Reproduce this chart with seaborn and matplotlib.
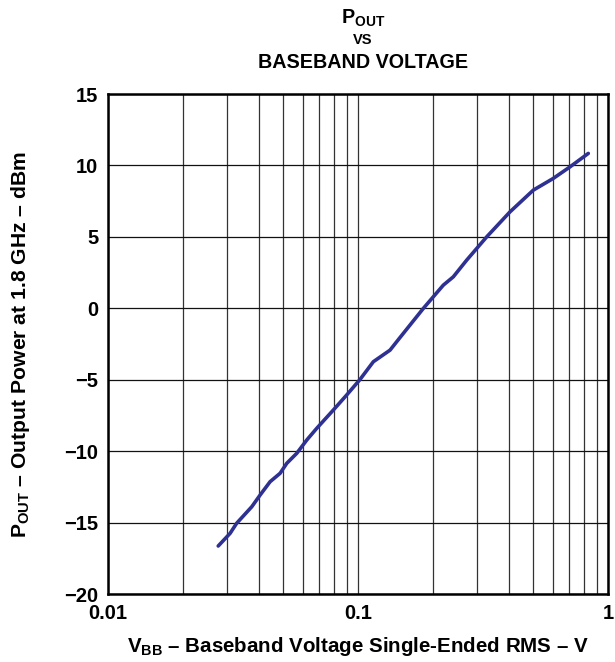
import numpy as np
import pandas as pd
import matplotlib
matplotlib.use("Agg")
import matplotlib.pyplot as plt
from matplotlib.ticker import FixedLocator, LogLocator, NullFormatter
import seaborn as sns

# data
vbb_rms = [0.0276, 0.0308, 0.0327, 0.0376, 0.0406, 0.0445, 0.0488, 0.0519,
           0.0569, 0.0624, 0.0684, 0.0797, 0.0901, 0.1019, 0.1152, 0.1343,
           0.1472, 0.1825, 0.2194, 0.2405, 0.2721, 0.3272, 0.4055, 0.5026,
           0.6040, 0.7047, 0.8340]
pout_dbm = [-16.64, -15.75, -15.05, -13.89, -13.07, -12.14, -11.55, -10.85,
            -10.15, -9.22, -8.40, -7.12, -6.07, -4.98, -3.74, -2.93,
            -2.05, -0.01, 1.62, 2.20, 3.37, 5.00, 6.75, 8.27,
            9.09, 9.90, 10.84]

y_ticks = [-20, -15, -10, -5, 0, 5, 10, 15]
x_ticks = [0.01, 0.1, 1]
x_tick_labels = ["0.01", "0.1", "1"]

df = pd.DataFrame({"vbb": vbb_rms, "pout": pout_dbm})

sns.set_style("white")
plt.rcParams["font.family"] = ["Liberation Sans", "DejaVu Sans"]
plt.rcParams["font.weight"] = "bold"
plt.rcParams["text.color"] = "black"
plt.rcParams["axes.labelcolor"] = "black"
plt.rcParams["xtick.color"] = "black"
plt.rcParams["ytick.color"] = "black"
plt.rcParams["mathtext.fontset"] = "custom"
plt.rcParams["mathtext.rm"] = "Liberation Sans:bold"
plt.rcParams["mathtext.it"] = "Liberation Sans:bold"
plt.rcParams["mathtext.bf"] = "Liberation Sans:bold"

fig = plt.figure(figsize=(6.15, 6.62), dpi=100)
ax = fig.add_axes([108 / 615, 68 / 662, 500 / 615, 500 / 662])

sns.lineplot(data=df, x="vbb", y="pout", ax=ax, color="#2e3192",
             linewidth=2.6, solid_capstyle="round")

ax.set_xscale("log")
ax.set_xlim(0.01, 1)
ax.set_ylim(-20, 15)
ax.xaxis.set_major_locator(FixedLocator(x_ticks))
ax.set_xticklabels(x_tick_labels)
ax.xaxis.set_minor_locator(LogLocator(base=10, subs=np.arange(2, 10)))
ax.xaxis.set_minor_formatter(NullFormatter())
ax.set_yticks(y_ticks)

ax.grid(True, which="both", axis="x", color="#333333", linewidth=0.9)
ax.grid(True, which="major", axis="y", color="#111111", linewidth=0.9)
ax.tick_params(which="both", length=0, labelsize=14.5)
ax.tick_params(axis="x", pad=7)
ax.tick_params(axis="y", pad=7)
for lbl in ax.get_xticklabels() + ax.get_yticklabels():
    lbl.set_fontweight("bold")

for sp in ax.spines.values():
    sp.set_color("black")
    sp.set_linewidth(1.8)

ax.set_xlabel(r"V$_{\mathrm{BB}}$ – Baseband Voltage Single-Ended RMS – V",
              fontsize=14.8, fontweight="bold", labelpad=9)
ax.set_ylabel(r"P$_{\mathrm{OUT}}$ – Output Power at 1.8 GHz – dBm",
              fontsize=15.2, fontweight="bold", labelpad=23)

fig.text(0.59, 1 - 18 / 662, r"P$_{\mathrm{OUT}}$", ha="center", va="center",
         fontsize=14.2, fontweight="bold")
fig.text(0.59, 1 - 40 / 662, "VS", ha="center", va="center",
         fontsize=10.5, fontweight="bold")
fig.text(0.59, 1 - 62 / 662, "BASEBAND VOLTAGE", ha="center", va="center",
         fontsize=14.2, fontweight="bold")

fig.savefig("out.png", dpi=100)
